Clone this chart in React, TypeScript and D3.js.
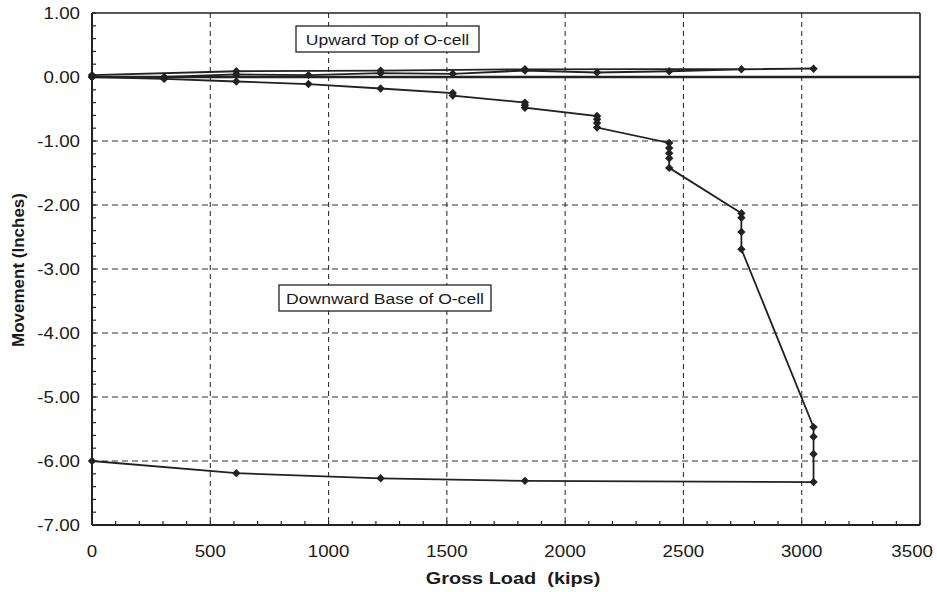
import React from "react";
import * as d3 from "d3";

// Upward Top of O-cell (loading then unloading)
const upLoad = [0, 305, 610, 915, 1220, 1525, 1830, 2135, 2440, 2745, 3050, 1830, 1220, 610, 0];
const upMove = [0.0, 0.0, 0.04, 0.03, 0.06, 0.05, 0.1, 0.07, 0.09, 0.12, 0.13, 0.12, 0.1, 0.09, 0.03];

// Downward Base of O-cell (loading with hold readings, then unloading)
const downLoad = [
  0, 305, 610, 915, 1220, 1525, 1525, 1830, 1830, 1830, 2135, 2135, 2135, 2135,
  2440, 2440, 2440, 2440, 2440, 2745, 2745, 2745, 2745, 3050, 3050, 3050, 3050,
  1830, 1220, 610, 0,
];
const downMove = [
  0.0, -0.03, -0.07, -0.11, -0.18, -0.25, -0.29, -0.4, -0.44, -0.48, -0.61, -0.66, -0.72, -0.79,
  -1.03, -1.11, -1.19, -1.27, -1.42, -2.13, -2.2, -2.42, -2.69, -5.47, -5.62, -5.89, -6.33,
  -6.31, -6.27, -6.19, -6.0,
];

const xTicks = [0, 500, 1000, 1500, 2000, 2500, 3000, 3500];
const yTicks = [1, 0, -1, -2, -3, -4, -5, -6, -7];
const labelUp = "Upward Top of O-cell";
const labelDown = "Downward Base of O-cell";
const xTitle = "Gross Load  (kips)";
const yTitle = "Movement (Inches)";

const font = "Liberation Sans, Arial, sans-serif";
const SX = 1.17;

function T(props: {
  x: number; y: number; size: number; anchor?: string; bold?: boolean; sx?: number; children: any;
}) {
  const { x, y, size, anchor = "start", bold, sx = SX, children } = props;
  return (
    <text
      transform={`translate(${x},${y}) scale(${sx},1)`}
      textAnchor={anchor as any}
      fontFamily={font}
      fontSize={size}
      fontWeight={bold ? "bold" : "normal"}
      fill="#1a1a1a"
      style={{ whiteSpace: "pre" }}
    >
      {children}
    </text>
  );
}

export default function App() {
  const W = 937, H = 592;
  const left = 92, right = 920, top = 13, bottom = 525;
  const x = d3.scaleLinear().domain([0, 3500]).range([left, right]);
  const y = d3.scaleLinear().domain([-7, 1]).range([bottom, top]);
  const mk = (L: number[], M: number[]) =>
    d3.line<number>().x((d) => x(d)).y((_, i) => y(M[i]))(L) as string;
  const minorX = d3.range(0, 3501, 100);
  const minorY = d3.range(-7, 1.001, 0.2);
  const r = 4.2;
  const diamond = (cx: number, cy: number) =>
    `M${cx},${cy - r}L${cx + r},${cy}L${cx},${cy + r}L${cx - r},${cy}Z`;
  return (
    <svg width={W} height={H} style={{ position: "absolute", left: 0, top: 0, background: "#fff" }}>
      <rect x={0} y={0} width={W} height={H} fill="#fff" />
      {/* gridlines */}
      {xTicks.filter((t) => t > 0 && t < 3500).map((t) => (
        <line key={"gx" + t} x1={x(t)} x2={x(t)} y1={top} y2={bottom} stroke="#333" strokeWidth={1.1} strokeDasharray="5,4" />
      ))}
      {yTicks.filter((t) => t < 0 && t > -7).map((t) => (
        <line key={"gy" + t} x1={left} x2={right} y1={y(t)} y2={y(t)} stroke="#333" strokeWidth={1.1} strokeDasharray="6,4" />
      ))}
      {/* frame */}
      <line x1={left} x2={right} y1={top} y2={top} stroke="#222" strokeWidth={1.6} />
      <line x1={right} x2={right} y1={top} y2={bottom} stroke="#222" strokeWidth={1.6} />
      <line x1={left} x2={right} y1={bottom} y2={bottom} stroke="#222" strokeWidth={2} />
      <line x1={left} x2={left} y1={top} y2={bottom} stroke="#222" strokeWidth={2} />
      <line x1={left} x2={right} y1={y(0)} y2={y(0)} stroke="#222" strokeWidth={2.4} />
      {/* minor ticks */}
      {minorX.map((t) => (
        <line key={"mx" + t} x1={x(t)} x2={x(t)} y1={bottom} y2={bottom - 4} stroke="#222" strokeWidth={1.2} />
      ))}
      {minorY.map((t, i) => (
        <line key={"my" + i} x1={left} x2={left + 4} y1={y(t)} y2={y(t)} stroke="#222" strokeWidth={1.2} />
      ))}
      {/* tick labels */}
      {xTicks.map((t) => {
        const last = t === xTicks[xTicks.length - 1];
        return (
          <T key={"lx" + t} x={last ? W - 4 : x(t)} y={557} size={16} anchor={last ? "end" : "middle"}>{t}</T>
        );
      })}
      {yTicks.map((t) => (
        <T key={"ly" + t} x={80} y={y(t) + 6} size={16} anchor="end">{t.toFixed(2)}</T>
      ))}
      {/* titles */}
      <T x={513} y={584} size={17} anchor="middle" bold>{xTitle}</T>
      <text transform={`translate(24,270) rotate(-90)`} textAnchor="middle" fontFamily={font} fontSize={17} fontWeight="bold" fill="#1a1a1a">{yTitle}</text>
      {/* series */}
      <path d={mk(upLoad, upMove)} fill="none" stroke="#222" strokeWidth={1.8} />
      <path d={mk(downLoad, downMove)} fill="none" stroke="#222" strokeWidth={1.8} />
      {upLoad.map((L, i) => (
        <path key={"mu" + i} d={diamond(x(L), y(upMove[i]))} fill="#222" />
      ))}
      {downLoad.map((L, i) => (
        <path key={"md" + i} d={diamond(x(L), y(downMove[i]))} fill="#222" />
      ))}
      {/* labels */}
      <rect x={296} y={26} width={183} height={26} fill="#fff" stroke="#222" strokeWidth={1.3} />
      <T x={387.5} y={45} size={15} anchor="middle">{labelUp}</T>
      <rect x={279} y={285} width={212} height={26} fill="#fff" stroke="#222" strokeWidth={1.3} />
      <T x={385} y={304} size={15} anchor="middle">{labelDown}</T>
    </svg>
  );
}
